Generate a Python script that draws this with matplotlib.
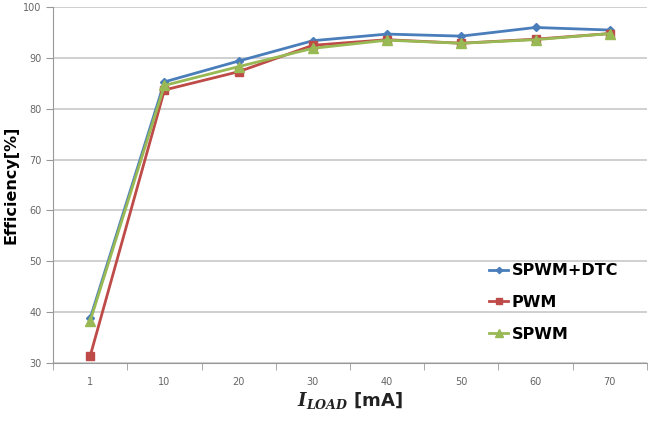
import matplotlib.pyplot as plt
import numpy as np

plt.rcParams["mathtext.fontset"] = "custom"
plt.rcParams["mathtext.bfit"] = "DejaVu Serif:italic:bold"
plt.rcParams["mathtext.rm"] = "DejaVu Serif"

# load current categories (mA) and efficiency [%]
loads = ["1", "10", "20", "30", "40", "50", "60", "70"]
spwm_dtc = [38.8, 85.3, 89.4, 93.4, 94.7, 94.3, 96.0, 95.5]
pwm = [31.4, 83.7, 87.3, 92.5, 93.6, 92.9, 93.7, 94.8]
spwm = [38.3, 84.6, 88.3, 91.9, 93.5, 92.9, 93.6, 94.8]

x = np.arange(len(loads))

fig = plt.figure(figsize=(6.56, 4.21), dpi=100)
ax = fig.add_axes([0.081, 0.138, 0.905, 0.845])

ax.plot(x, spwm_dtc, color="#4A7EBB", lw=2, marker="D", ms=4, label="SPWM+DTC")
ax.plot(x, pwm, color="#BE4B48", lw=2, marker="s", ms=6, label="PWM")
ax.plot(x, spwm, color="#98B954", lw=2, marker="^", ms=7, label="SPWM")

ax.set_xlim(-0.5, len(loads) - 0.5)
ax.set_ylim(30, 100)
ax.set_yticks(range(30, 101, 10))
ax.set_xticks(x, loads)
ax.set_xticks(np.arange(-0.5, len(loads), 1), minor=True)
ax.tick_params(axis="x", which="major", length=0, pad=10)
ax.tick_params(axis="x", which="minor", length=5, color="#999999")
ax.tick_params(axis="y", length=5, color="#999999")
ax.tick_params(labelsize=7, labelcolor="#666666")

ax.grid(axis="y", color="#c8c8c8", lw=1.2)
ax.set_axisbelow(True)
for s in ("top", "right"):
    ax.spines[s].set_visible(False)
for s in ("left", "bottom"):
    ax.spines[s].set_color("#999999")

ax.set_ylabel("Efficiency[%]", fontsize=11.5, fontweight="bold")
ax.yaxis.set_label_coords(-0.058, 0.5)
ax.set_xlabel(r"$\mathbfit{I}_{\mathbfit{LOAD}}$ [mA]", fontsize=13,
              fontweight="bold", color="#222222")
ax.xaxis.set_label_coords(0.5, -0.075)

ax.legend(loc="center left", bbox_to_anchor=(0.71, 0.17), frameon=False,
          handlelength=1.2, handletextpad=0.2, labelspacing=1.05,
          markerscale=0.8, prop={"size": 11.5, "weight": "bold"})

fig.savefig("out.png")
